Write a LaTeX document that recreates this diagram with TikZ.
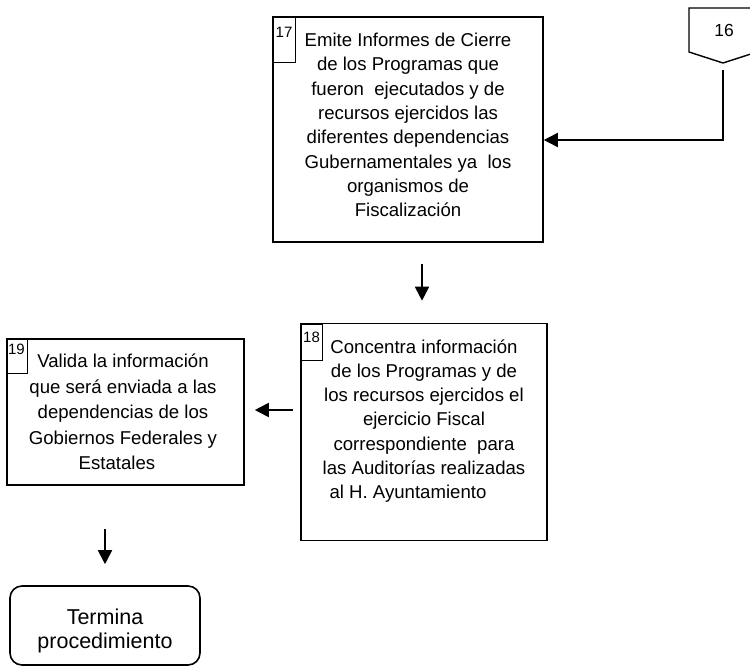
\documentclass[tikz,border=0pt]{standalone}
\usepackage{fontspec}
\setmainfont{Liberation Sans}
\usetikzlibrary{arrows.meta}
\begin{document}
\begin{tikzpicture}[x=1pt,y=-1pt,
  box/.style={draw=black, line width=1.6pt, inner sep=0pt},
  tagbox/.style={draw=black, line width=1.4pt, inner sep=0pt, anchor=north west},
  num/.style={inner sep=0pt, font=\fontsize{15}{15}\selectfont},
  txt/.style={inner sep=0pt, align=center, font=\fontsize{18.6}{24.3}\selectfont},
  arr/.style={line width=1.8pt, -{Triangle[length=14pt,width=14pt]}}
]
\useasboundingbox (0,0) rectangle (750,667);

% boxes
\node[box, minimum width=270pt, minimum height=225pt] (box17) at (408,129.5) {};
\node[box, minimum width=246pt, minimum height=217pt] (box18) at (424,432) {};
\node[box, minimum width=237pt, minimum height=146pt] (box19) at (125.5,412) {};
\node[box, rounded corners=12pt, minimum width=190pt, minimum height=79pt] (term) at (105,625.5) {};

% tags
\node[tagbox, minimum width=22pt, minimum height=45pt] (tag17) at (273,17) {};
\node[tagbox, minimum width=21pt, minimum height=36pt] (tag18) at (301,324) {};
\node[tagbox, minimum width=20pt, minimum height=34pt] (tag19) at (7,339) {};
\node[num] (n17) at (284,32) {17};
\node[num] (n18) at (311.5,337.5) {18};
\node[num] (n19) at (16.5,349) {19};

% texts
\node[txt] (t17) at (408,125) {Emite Informes de Cierre\\de los Programas que\\fueron\ \ ejecutados y de\\recursos ejercidos las\\diferentes dependencias\\Gubernamentales ya\ \ los\\organismos de\\Fiscalización};
\node[txt] (t18) at (424,421) {Concentra información\\de los Programas y de\\los recursos ejercidos el\\ejercicio Fiscal\\correspondiente\ \ para\\las Auditorías realizadas\\al H. Ayuntamiento\hspace*{32pt}};
\node[txt, font=\fontsize{18.6}{25.5}\selectfont] (t19) at (123,412) {Valida la información\\que será enviada a las\\dependencias de los\\Gobiernos Federales y\\Estatales\hspace*{12pt}};
\node[inner sep=0pt, align=center, font=\fontsize{21.5}{24}\selectfont] (tterm) at (105,631) {Termina\\procedimiento};

% off-page connector 16
\draw[line width=1.4pt] (689,8) -- (757,8) -- (757,52) -- (723,63) -- (689,52) -- cycle;
\coordinate (p16s) at (723,63);
\node[inner sep=0pt, font=\fontsize{17.5}{17.5}\selectfont] (n16) at (724,30) {16};
\coordinate (c140) at (0,140);

% connectors
\draw[arr] ([yshift=-7pt]p16s) -- (p16s |- c140) -- (box17.east |- c140);
\draw[arr, shorten <=21pt, shorten >=22pt] ([xshift=14pt]box17.south) -- ([xshift=14pt]box17.south |- box18.north);
\coordinate (c410) at (0,410);
\draw[arr, shorten <=7pt, shorten >=10pt] (box18.west |- c410) -- (box19.east |- c410);
\draw[arr, shorten <=43pt, shorten >=21pt] (term.north |- box19.south) -- (term.north);
\end{tikzpicture}
\end{document}
